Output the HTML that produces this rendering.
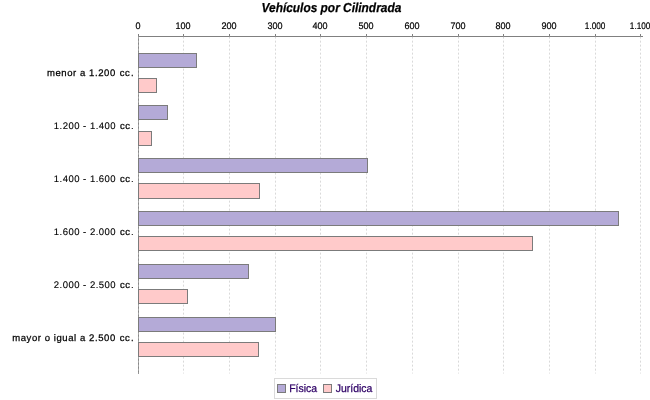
<!DOCTYPE html>
<html><head><meta charset="utf-8"><title>Vehículos por Cilindrada</title>
<style>
html,body{margin:0;padding:0;background:#fff;}
body{width:650px;height:400px;overflow:hidden;font-family:"Liberation Sans",sans-serif;}
svg{display:block;will-change:transform;}
text{font-family:"Liberation Sans",sans-serif;text-rendering:geometricPrecision;}
</style></head><body>
<svg width="650" height="400" viewBox="0 0 650 400">
<rect x="0" y="0" width="650" height="400" fill="#ffffff"/>

<line x1="138" y1="36.5" x2="643" y2="36.5" stroke="#808080" stroke-width="1"/>
<line x1="138.5" y1="36" x2="138.5" y2="374" stroke="#888888" stroke-width="1"/>
<line x1="138.5" y1="34" x2="138.5" y2="37" stroke="#808080" stroke-width="1"/>
<text transform="translate(138.1,28.8) scale(0.95,1)" font-size="9.5" text-anchor="middle" fill="#000" stroke="#000" stroke-width="0.2">0</text>
<line x1="183.5" y1="34" x2="183.5" y2="37" stroke="#808080" stroke-width="1"/>
<text transform="translate(183.1,28.8) scale(0.95,1)" font-size="9.5" text-anchor="middle" fill="#000" stroke="#000" stroke-width="0.2">100</text>
<line x1="229.5" y1="34" x2="229.5" y2="37" stroke="#808080" stroke-width="1"/>
<text transform="translate(229.1,28.8) scale(0.95,1)" font-size="9.5" text-anchor="middle" fill="#000" stroke="#000" stroke-width="0.2">200</text>
<line x1="275.5" y1="34" x2="275.5" y2="37" stroke="#808080" stroke-width="1"/>
<text transform="translate(275.1,28.8) scale(0.95,1)" font-size="9.5" text-anchor="middle" fill="#000" stroke="#000" stroke-width="0.2">300</text>
<line x1="320.5" y1="34" x2="320.5" y2="37" stroke="#808080" stroke-width="1"/>
<text transform="translate(320.1,28.8) scale(0.95,1)" font-size="9.5" text-anchor="middle" fill="#000" stroke="#000" stroke-width="0.2">400</text>
<line x1="366.5" y1="34" x2="366.5" y2="37" stroke="#808080" stroke-width="1"/>
<text transform="translate(366.1,28.8) scale(0.95,1)" font-size="9.5" text-anchor="middle" fill="#000" stroke="#000" stroke-width="0.2">500</text>
<line x1="412.5" y1="34" x2="412.5" y2="37" stroke="#808080" stroke-width="1"/>
<text transform="translate(412.1,28.8) scale(0.95,1)" font-size="9.5" text-anchor="middle" fill="#000" stroke="#000" stroke-width="0.2">600</text>
<line x1="458.5" y1="34" x2="458.5" y2="37" stroke="#808080" stroke-width="1"/>
<text transform="translate(458.1,28.8) scale(0.95,1)" font-size="9.5" text-anchor="middle" fill="#000" stroke="#000" stroke-width="0.2">700</text>
<line x1="503.5" y1="34" x2="503.5" y2="37" stroke="#808080" stroke-width="1"/>
<text transform="translate(503.1,28.8) scale(0.95,1)" font-size="9.5" text-anchor="middle" fill="#000" stroke="#000" stroke-width="0.2">800</text>
<line x1="549.5" y1="34" x2="549.5" y2="37" stroke="#808080" stroke-width="1"/>
<text transform="translate(549.1,28.8) scale(0.95,1)" font-size="9.5" text-anchor="middle" fill="#000" stroke="#000" stroke-width="0.2">900</text>
<line x1="595.5" y1="34" x2="595.5" y2="37" stroke="#808080" stroke-width="1"/>
<text transform="translate(595.1,28.8) scale(0.865,1)" font-size="9.5" text-anchor="middle" fill="#000" stroke="#000" stroke-width="0.2">1.000</text>
<line x1="640.5" y1="34" x2="640.5" y2="37" stroke="#808080" stroke-width="1"/>
<text transform="translate(640.1,28.8) scale(0.865,1)" font-size="9.5" text-anchor="middle" fill="#000" stroke="#000" stroke-width="0.2">1.100</text>
<line x1="138.5" y1="36.65" x2="138.5" y2="373.5" stroke="#c0c0c0" stroke-width="0.6" stroke-dasharray="2,2"/>
<line x1="183.5" y1="36.65" x2="183.5" y2="373.5" stroke="#c0c0c0" stroke-width="0.6" stroke-dasharray="2,2"/>
<line x1="229.5" y1="36.65" x2="229.5" y2="373.5" stroke="#c0c0c0" stroke-width="0.6" stroke-dasharray="2,2"/>
<line x1="275.5" y1="36.65" x2="275.5" y2="373.5" stroke="#c0c0c0" stroke-width="0.6" stroke-dasharray="2,2"/>
<line x1="320.5" y1="36.65" x2="320.5" y2="373.5" stroke="#c0c0c0" stroke-width="0.6" stroke-dasharray="2,2"/>
<line x1="366.5" y1="36.65" x2="366.5" y2="373.5" stroke="#c0c0c0" stroke-width="0.6" stroke-dasharray="2,2"/>
<line x1="412.5" y1="36.65" x2="412.5" y2="373.5" stroke="#c0c0c0" stroke-width="0.6" stroke-dasharray="2,2"/>
<line x1="458.5" y1="36.65" x2="458.5" y2="373.5" stroke="#c0c0c0" stroke-width="0.6" stroke-dasharray="2,2"/>
<line x1="503.5" y1="36.65" x2="503.5" y2="373.5" stroke="#c0c0c0" stroke-width="0.6" stroke-dasharray="2,2"/>
<line x1="549.5" y1="36.65" x2="549.5" y2="373.5" stroke="#c0c0c0" stroke-width="0.6" stroke-dasharray="2,2"/>
<line x1="595.5" y1="36.65" x2="595.5" y2="373.5" stroke="#c0c0c0" stroke-width="0.6" stroke-dasharray="2,2"/>
<line x1="640.5" y1="36.65" x2="640.5" y2="373.5" stroke="#c0c0c0" stroke-width="0.6" stroke-dasharray="2,2"/>
<rect x="138.5" y="53.5" width="58.0" height="14" fill="#b4aad7" stroke="#7b7b7b" stroke-width="1"/>
<rect x="138.5" y="78.5" width="18.0" height="14" fill="#ffcaca" stroke="#7b7b7b" stroke-width="1"/>
<rect x="138.5" y="105.5" width="29.0" height="14" fill="#b4aad7" stroke="#7b7b7b" stroke-width="1"/>
<rect x="138.5" y="131.5" width="13.0" height="14" fill="#ffcaca" stroke="#7b7b7b" stroke-width="1"/>
<rect x="138.5" y="158.5" width="229.0" height="14" fill="#b4aad7" stroke="#7b7b7b" stroke-width="1"/>
<rect x="138.5" y="183.5" width="121.0" height="15" fill="#ffcaca" stroke="#7b7b7b" stroke-width="1"/>
<rect x="138.5" y="211.5" width="480.0" height="14" fill="#b4aad7" stroke="#7b7b7b" stroke-width="1"/>
<rect x="138.5" y="236.5" width="394.0" height="14" fill="#ffcaca" stroke="#7b7b7b" stroke-width="1"/>
<rect x="138.5" y="264.5" width="110.0" height="14" fill="#b4aad7" stroke="#7b7b7b" stroke-width="1"/>
<rect x="138.5" y="289.5" width="49.0" height="14" fill="#ffcaca" stroke="#7b7b7b" stroke-width="1"/>
<rect x="138.5" y="317.5" width="137.0" height="14" fill="#b4aad7" stroke="#7b7b7b" stroke-width="1"/>
<rect x="138.5" y="342.5" width="120.0" height="14" fill="#ffcaca" stroke="#7b7b7b" stroke-width="1"/>
<text x="134.2" y="76" font-size="9.5" text-anchor="end" fill="#000" stroke="#000" stroke-width="0.25" letter-spacing="0.58">menor a 1.200 <tspan dx="0.8" stroke-width="0.25">cc</tspan><tspan dx="0.5">.</tspan></text>
<text x="134.2" y="129" font-size="9.5" text-anchor="end" fill="#000" stroke="#000" stroke-width="0.12" letter-spacing="0.49">1.200 - 1.400 <tspan dx="0.8" stroke-width="0.25">cc</tspan><tspan dx="0.5">.</tspan></text>
<text x="134.2" y="182" font-size="9.5" text-anchor="end" fill="#000" stroke="#000" stroke-width="0.12" letter-spacing="0.49">1.400 - 1.600 <tspan dx="0.8" stroke-width="0.25">cc</tspan><tspan dx="0.5">.</tspan></text>
<text x="134.2" y="235" font-size="9.5" text-anchor="end" fill="#000" stroke="#000" stroke-width="0.12" letter-spacing="0.49">1.600 - 2.000 <tspan dx="0.8" stroke-width="0.25">cc</tspan><tspan dx="0.5">.</tspan></text>
<text x="134.2" y="288" font-size="9.5" text-anchor="end" fill="#000" stroke="#000" stroke-width="0.12" letter-spacing="0.49">2.000 - 2.500 <tspan dx="0.8" stroke-width="0.25">cc</tspan><tspan dx="0.5">.</tspan></text>
<text x="134.2" y="341" font-size="9.5" text-anchor="end" fill="#000" stroke="#000" stroke-width="0.25" letter-spacing="0.58">mayor o igual a 2.500 <tspan dx="0.8" stroke-width="0.25">cc</tspan><tspan dx="0.5">.</tspan></text>
<text transform="translate(331.4,11.6) scale(0.9155,1)" font-size="13" font-weight="bold" font-style="italic" text-anchor="middle" fill="#000" stroke="#000" stroke-width="0.25">Vehículos por Cilindrada</text>
<rect x="274.5" y="378.5" width="102" height="20" fill="#fff" stroke="#dadada" stroke-width="1"/>
<rect x="277.5" y="384.5" width="8" height="8" fill="#b4aad7" stroke="#7b7b7b" stroke-width="1"/>
<text transform="translate(289.15,391.8) scale(0.95,1)" font-size="11" fill="#2e0066" stroke="#2e0066" stroke-width="0.25">Física</text>
<rect x="323.5" y="384.5" width="8" height="8" fill="#ffcaca" stroke="#7b7b7b" stroke-width="1"/>
<text transform="translate(335.8,391.8) scale(0.95,1)" font-size="11" fill="#2e0066" stroke="#2e0066" stroke-width="0.25">Jurídica</text>
</svg></body></html>
